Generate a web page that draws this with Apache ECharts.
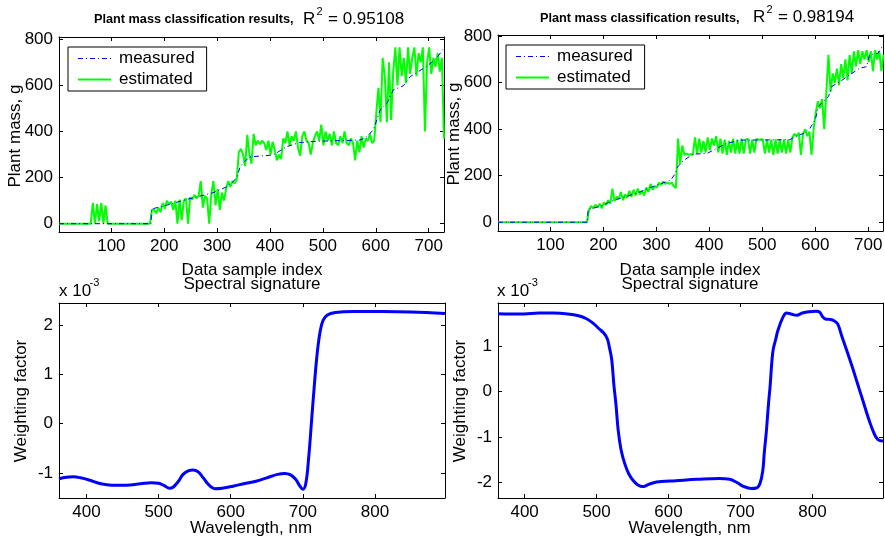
<!DOCTYPE html>
<html><head><meta charset="utf-8">
<script src="https://cdn.jsdelivr.net/npm/echarts@6/dist/echarts.min.js"></script>
<style>html,body{margin:0;padding:0;background:#fff}#c{width:885px;height:542px}</style>
</head><body><div id="c"></div>
<script>
const FONT = '"Liberation Sans", Arial, Helvetica, sans-serif';

// ---------- Top plots: sample index (every 4th sample shown) ----------
const sampleStep = 4;
const sampleCount = 183;
const sampleIdx = Array.from({length: sampleCount}, (_, i) => 1 + sampleStep * i);

// Left: R^2 = 0.95108
const tlEstimated = [
  0,0,0,0,0,0,0,0,0,0,
  0,0,0,0,0,0,90,0,85,10,
  90,0,80,0,0,0,0,0,0,0,
  0,0,0,0,0,0,0,0,0,0,
  0,0,0,0,62,60,45,70,50,90,
  65,100,85,95,60,100,0,105,15,100,
  110,0,115,105,125,110,120,185,70,120,
  110,0,130,185,80,150,60,135,100,150,
  185,160,185,175,190,310,325,300,250,385,
  300,260,390,340,360,345,360,350,320,360,
  300,355,320,275,300,280,370,350,400,340,
  380,360,400,330,295,380,400,360,350,300,
  350,380,400,360,430,340,400,360,390,340,
  400,350,340,380,350,400,350,340,370,350,
  275,360,310,380,330,370,360,390,350,360,
  480,590,440,720,640,440,700,450,660,765,
  600,765,640,720,610,765,650,720,765,640,
  740,700,765,400,700,765,650,720,680,740,
  660,720,370
];
const tlMeasuredX = [1,175,176,180,204,242,292,318,330,338,343,352,362,406,431,456,482,570,583,595,602,608,621,633,652,665,696,715,729];
const tlMeasuredY = [0,0,62,66,80,105,134,160,182,203,245,270,290,298,334,352,357,363,377,406,450,493,522,580,598,638,682,718,762];

// Right: R^2 = 0.98194
const trEstimated = [
  0,0,0,0,0,0,0,0,0,0,
  0,0,0,0,0,0,0,0,0,0,
  0,0,0,0,0,0,0,0,0,0,
  0,0,0,0,0,0,0,0,0,0,
  0,0,0,55,70,60,75,65,80,60,
  85,75,95,80,145,90,110,100,130,95,
  120,105,135,110,140,115,145,120,135,115,
  150,130,165,140,155,150,170,160,175,165,
  170,165,170,155,148,360,250,330,290,295,
  290,292,290,365,295,360,300,350,300,365,
  310,360,330,370,300,360,295,355,290,350,
  300,360,295,355,295,360,295,355,360,295,
  355,300,358,355,356,357,295,355,300,355,
  290,356,295,355,300,356,295,355,300,365,
  380,370,385,290,380,400,370,390,290,400,
  470,520,490,530,400,560,720,560,640,600,
  660,590,680,620,700,610,720,640,735,670,
  740,680,735,700,740,690,735,650,740,700,
  735,650,720
];
const trMeasuredX = [1,170,171,195,220,245,270,301,327,336,340,352,370,396,414,433,458,552,562,578,590,600,606,615,625,631,647,665,684,697,703,719,729];
const trMeasuredY = [0,0,55,69,95,112,131,160,181,210,238,267,293,296,318,339,353,355,368,382,404,440,497,519,540,583,605,634,662,669,720,727,765];

const topXTicks = [100,200,300,400,500,600,700];
const topYTicks = [0,200,400,600,800];

// ---------- Bottom plots: spectral signature (x 10^-3) ----------
const blWavelength = [362,372,382,392,405,420,435,455,475,490,500,508,515,520,527,534,541,548,555,562,570,578,588,603,618,635,650,665,675,683,690,696,700,704,708,712,716,720,724,728,734,745,770,810,850,897];
const blWeight = [-1.12,-1.09,-1.08,-1.10,-1.15,-1.22,-1.25,-1.25,-1.22,-1.20,-1.21,-1.26,-1.31,-1.29,-1.18,-1.03,-0.96,-0.94,-0.98,-1.10,-1.25,-1.32,-1.31,-1.27,-1.22,-1.17,-1.10,-1.03,-1.01,-1.04,-1.13,-1.27,-1.33,-1.22,-0.70,0.05,0.80,1.45,1.88,2.10,2.21,2.26,2.28,2.28,2.27,2.24];

const brWavelength = [363,380,399,420,440,460,475,486,495,503,510,515,518,521,524,527,530,534,539,545,552,558,564,570,578,590,610,640,670,685,695,705,715,722,727,731,733,736,739,741,745,749,752,759,764,770,778,786,795,805,810,814,818,824,830,835,841,848,855,862,870,878,885,891,898];
const brWeight = [1.705,1.70,1.70,1.72,1.72,1.70,1.66,1.595,1.50,1.38,1.28,1.15,0.95,0.70,0.15,-0.30,-0.85,-1.28,-1.58,-1.82,-1.98,-2.06,-2.09,-2.06,-2.01,-1.98,-1.96,-1.93,-1.91,-1.93,-2.00,-2.09,-2.13,-2.12,-2.02,-1.73,-1.35,-0.86,-0.25,0.09,0.88,1.15,1.34,1.63,1.72,1.70,1.67,1.72,1.75,1.76,1.74,1.64,1.59,1.58,1.55,1.48,1.20,0.88,0.55,0.20,-0.20,-0.60,-0.90,-1.06,-1.09];

const bottomXTicks = [400,500,600,700,800];
const blYTicks = [-1,0,1,2];
const brYTicks = [-2,-1,0,1];

// ---------- helpers ----------
const zip = (a, b) => a.map((v, i) => [v, b[i]]);

function axis(gi, min, max, ticks, pos, showLabel) {
  return {
    type: 'value', gridIndex: gi, min: min, max: max, position: pos,
    axisLine: {show: true, onZero: false, lineStyle: {color: '#000', width: 1}},
    axisTick: {show: true, inside: true, length: 4, customValues: ticks, lineStyle: {color: '#000', width: 1}},
    axisLabel: {show: showLabel, customValues: ticks, color: '#000', fontSize: 17, fontFamily: FONT, margin: 6},
    splitLine: {show: false}
  };
}

const grids = [
  {left: 59, top: 37, width: 385, height: 195},
  {left: 498, top: 35, width: 385, height: 196},
  {left: 59, top: 303, width: 386, height: 195},
  {left: 498, top: 303, width: 385, height: 195}
].map(g => Object.assign({containLabel: false, outerBoundsMode: 'none'}, g));

const xRanges = [[1,729,topXTicks],[1,728,topXTicks],[362,897,bottomXTicks],[363,898,bottomXTicks]];
const yRanges = [[-36,810,topYTicks],[-37.5,805,topYTicks],[-1.51,2.455,blYTicks],[-2.34,1.94,brYTicks]];

const xAxes = [], yAxes = [];
for (let g = 0; g < 4; g++) {
  const [x0, x1, xt] = xRanges[g];
  const [y0, y1, yt] = yRanges[g];
  xAxes.push(axis(g, x0, x1, xt, 'bottom', true));
  xAxes.push(axis(g, x0, x1, xt, 'top', false));
  yAxes.push(axis(g, y0, y1, yt, 'left', true));
  yAxes.push(axis(g, y0, y1, yt, 'right', false));
}

const measuredStyle = {color: '#0000ff', width: 1, type: [5, 3, 1, 3]};
const estimatedStyle = {color: '#00ff00', width: 2};

const series = [
  {name: 'estimated', type: 'line', xAxisIndex: 0, yAxisIndex: 0, data: zip(sampleIdx, tlEstimated),
   symbol: 'none', lineStyle: estimatedStyle, itemStyle: {color: '#00ff00'}, z: 2},
  {name: 'measured', type: 'line', xAxisIndex: 0, yAxisIndex: 0, data: zip(tlMeasuredX, tlMeasuredY),
   symbol: 'none', lineStyle: measuredStyle, itemStyle: {color: '#0000ff'}, z: 3},
  {name: 'estimated', type: 'line', xAxisIndex: 2, yAxisIndex: 2, data: zip(sampleIdx, trEstimated),
   symbol: 'none', lineStyle: estimatedStyle, itemStyle: {color: '#00ff00'}, z: 2},
  {name: 'measured', type: 'line', xAxisIndex: 2, yAxisIndex: 2, data: zip(trMeasuredX, trMeasuredY),
   symbol: 'none', lineStyle: measuredStyle, itemStyle: {color: '#0000ff'}, z: 3},
  {name: 'spectral-left', type: 'line', xAxisIndex: 4, yAxisIndex: 4, data: zip(blWavelength, blWeight),
   symbol: 'none', smooth: 0.4, lineStyle: {color: '#0000ff', width: 3}},
  {name: 'spectral-right', type: 'line', xAxisIndex: 6, yAxisIndex: 6, data: zip(brWavelength, brWeight),
   symbol: 'none', smooth: 0.4, lineStyle: {color: '#0000ff', width: 3}}
];

function legendAt(left, top) {
  return {
    left: left, top: top, orient: 'vertical', data: ['measured', 'estimated'],
    itemWidth: 33, itemHeight: 16, itemGap: 4, padding: [3, 12, 3, 9],
    borderColor: '#000', borderWidth: 1, borderRadius: 0, backgroundColor: '#fff',
    selectedMode: false,
    itemStyle: {opacity: 0, borderWidth: 0},
    lineStyle: {type: 'inherit', width: 'inherit', opacity: 1},
    textStyle: {fontSize: 17, fontFamily: FONT, color: '#000', padding: [0, 0, 0, 3]}
  };
}

function txt(x, y, text, size, opt) {
  opt = opt || {};
  const el = {
    type: 'text', x: x, y: y, silent: true,
    style: {
      text: text, fontSize: size, fontFamily: FONT, fontWeight: opt.bold ? 'bold' : 'normal',
      fill: '#000', textAlign: opt.align || 'left', align: opt.align || 'left',
      textVerticalAlign: 'middle', verticalAlign: 'middle'
    }
  };
  if (opt.rot) el.rotation = opt.rot;
  return el;
}

const graphics = [
  // titles
  txt(94, 19.5, 'Plant mass classification results,', 12.7, {bold: true}),
  txt(303, 19, 'R', 17), txt(316.5, 12, '2', 11), txt(328, 19, '= 0.95108', 17),
  txt(540, 18, 'Plant mass classification results,', 12.7, {bold: true}),
  txt(753, 17, 'R', 17), txt(766.5, 10, '2', 11), txt(778, 17, '= 0.98194', 17),
  // axis labels
  txt(15, 136, 'Plant mass, g', 17, {align: 'center', rot: Math.PI / 2}),
  txt(454, 134, 'Plant mass, g', 17, {align: 'center', rot: Math.PI / 2}),
  txt(252, 270, 'Data sample index', 17, {align: 'center'}),
  txt(690, 270, 'Data sample index', 17, {align: 'center'}),
  txt(252, 284.5, 'Spectral signature', 17, {align: 'center'}),
  txt(690, 284.5, 'Spectral signature', 17, {align: 'center'}),
  txt(59, 291, 'x 10', 17), txt(89.5, 283, '-3', 11),
  txt(497, 291, 'x 10', 17), txt(528, 283, '-3', 11),
  txt(21, 401, 'Weighting factor', 17, {align: 'center', rot: Math.PI / 2}),
  txt(460, 401, 'Weighting factor', 17, {align: 'center', rot: Math.PI / 2}),
  txt(251, 528, 'Wavelength, nm', 17, {align: 'center'}),
  txt(689.5, 528, 'Wavelength, nm', 17, {align: 'center'})
];

const chart = echarts.init(document.getElementById('c'), null, {renderer: 'canvas'});
chart.setOption({
  animation: false,
  backgroundColor: '#fff',
  textStyle: {fontFamily: FONT},
  grid: grids,
  xAxis: xAxes,
  yAxis: yAxes,
  legend: [legendAt(68, 47), legendAt(506, 45)],
  series: series,
  graphic: graphics
});
</script></body></html>
